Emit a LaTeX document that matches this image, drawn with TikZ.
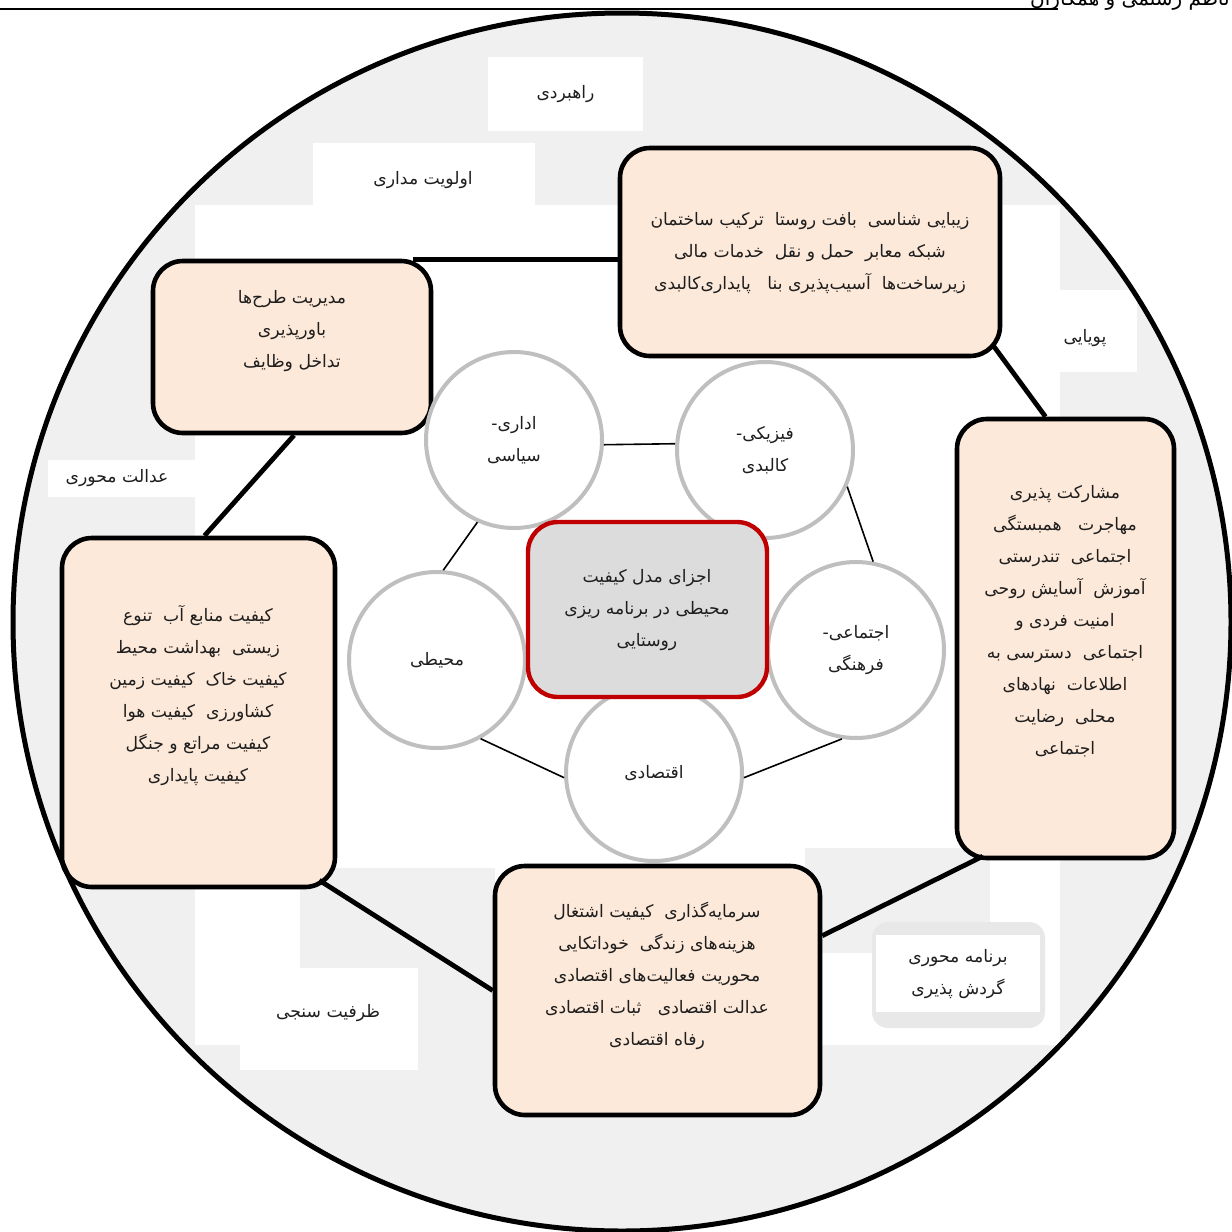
\documentclass[tikz,border=0pt]{standalone}
\usepackage{fontspec}
\usetikzlibrary{calc}
\TeXXeTstate=1
\newfontfamily\arabicfont[Script=Arabic]{DejaVu Sans}
\newcommand{\pe}[1]{\beginR #1\endR}
\definecolor{bggray}{HTML}{F0F0F0}
\definecolor{framegray}{HTML}{E8E8E8}
\definecolor{pinkfill}{HTML}{FDE9D9}
\definecolor{cgray}{HTML}{BFBFBF}
\definecolor{centerfill}{HTML}{DCDCDC}
\definecolor{darkred}{HTML}{C00000}
\definecolor{txtc}{HTML}{1E1E1E}
\tikzset{
  fatxt/.style={align=center, text=txtc, font=\arabicfont\fontsize{8.6}{16}\selectfont, inner sep=0pt},
  pinkbox/.style={draw=black, line width=2.3pt, fill=pinkfill, rounded corners=15pt, inner sep=0pt},
  smallc/.style={circle, draw=cgray, line width=2pt, fill=white, minimum size=88pt, inner sep=0pt, fatxt},
  thick link/.style={draw=black, line width=2.4pt},
  thin link/.style={draw=black, line width=0.8pt},
  labelbox/.style={fill=white, draw=none, inner sep=0pt}
}
\begin{document}
\begin{tikzpicture}[x=0.5pt,y=-0.5pt]
\useasboundingbox (0,0) rectangle (1232,1232);
\clip (0,0) rectangle (1232,1232);
\fill[white] (0,0) rectangle (1232,1232);
% header
\draw[black, line width=0.8pt] (0,9) -- (1058,9);
\node[anchor=base east, font=\arabicfont\fontsize{10}{12}\selectfont, inner sep=0pt] (hdr) at (1230,5) {\pe{ناظم رستمی و همکاران}};
% big circle
\fill[bggray] (622,622) circle (304.5pt);
% white inner panel
\fill[white] (195,205) rectangle (1060,1045);
% gray patches
\fill[bggray] (300,868) rectangle (495,1045);
\fill[bggray] (805,848) rectangle (990,953);
% label boxes
\node[labelbox, minimum width=77.5pt, minimum height=37pt] (lb1) at (565.5,94) {};
\node[fatxt] at (lb1) {\pe{راهبردی}};
\node[labelbox, minimum width=111pt, minimum height=42.5pt] (lb2) at (424,185.5) {};
\node[fatxt] at (423,180) {\pe{اولویت مداری}};
\node[labelbox, minimum width=53.5pt, minimum height=41pt] (lb3) at (1083.5,331) {};
\node[fatxt] at (1085,338) {\pe{پویایی}};
\node[labelbox, minimum width=86pt, minimum height=18.5pt] (lb4) at (134,478.5) {};
\node[fatxt] at (117,478) {\pe{عدالت محوری}};
\node[labelbox, minimum width=89pt, minimum height=51pt] (lb5) at (329,1019) {};
\node[fatxt] at (328,1013) {\pe{ظرفیت سنجی}};
\fill[framegray, rounded corners=8pt] (872,922) rectangle (1045,1028);
\node[labelbox, minimum width=82pt, minimum height=38.5pt] (lb6) at (958,973.5) {};
\node[fatxt] at (958,974) {\pe{برنامه محوری}\\\pe{گردش پذیری}};
% pink boxes
\node[pinkbox, minimum width=190pt, minimum height=104pt] (topb) at (810,252) {};
\node[pinkbox, minimum width=139pt, minimum height=86pt] (tlb) at (292,347) {};
\node[pinkbox, minimum width=108.5pt, minimum height=219.5pt] (rb) at (1065.5,638.5) {};
\node[pinkbox, minimum width=136.5pt, minimum height=174.5pt] (lfb) at (198.5,712.5) {};
\node[pinkbox, minimum width=162.5pt, minimum height=124.5pt] (bb) at (657.5,990.5) {};
% thick connectors
\coordinate (c1) at ($(tlb.north east)+(-20,1)$);
\draw[thick link] (c1) -- (c1 -| topb.west);
\draw[thick link] ($(topb.south east)+(-10,-14)$) -- ($(rb.north)+(-20,0)$);
\draw[thick link] ($(rb.south west)+(28,-4)$) -- ($(bb.north east)+(0,72)$);
\draw[thick link] (bb.west) -- ($(lfb.south east)+(-18,-9)$);
\draw[thick link] ($(lfb.north)+(6,0)$) -- ($(tlb.south)+(2,0)$);
% texts of pink boxes
\node[fatxt] (topt) at (810,253) {\pe{زیبایی شناسی~ بافت روستا~ ترکیب ساختمان}\\\pe{شبکه معابر~ حمل و نقل~ خدمات مالی}\\\pe{زیرساخت‌ها~ آسیب‌پذیری بنا~~ پایداری‌کالبدی}};
\node[fatxt] (tlt) at (292,331) {\pe{مدیریت طرح‌ها}\\\pe{باورپذیری}\\\pe{تداخل وظایف}};
\node[fatxt] (rt) at (1065,621.5) {\pe{مشارکت پذیری}\\\pe{مهاجرت~~ همبستگی}\\\pe{اجتماعی~ تندرستی}\\\pe{آموزش~ آسایش روحی}\\\pe{امنیت فردی و}\\\pe{اجتماعی~ دسترسی به}\\\pe{اطلاعات~ نهادهای}\\\pe{محلی~ رضایت}\\\pe{اجتماعی}};
\node[fatxt] (lft) at (198,695.5) {\pe{کیفیت منابع آب~ تنوع}\\\pe{زیستی~ بهداشت محیط}\\\pe{کیفیت خاک~ کیفیت زمین}\\\pe{کشاورزی~ کیفیت هوا}\\\pe{کیفیت مراتع و جنگل}\\\pe{کیفیت پایداری}};
\node[fatxt] (bt) at (657,975.5) {\pe{سرمایه‌گذاری~ کیفیت اشتغال}\\\pe{هزینه‌های زندگی~ خوداتکایی}\\\pe{محوریت فعالیت‌های اقتصادی}\\\pe{عدالت اقتصادی~~ ثبات اقتصادی}\\\pe{رفاه اقتصادی}};
% small circles
\node[smallc] (adari) at (514,440) {\pe{اداری-}\\\pe{سیاسی}};
\node[smallc] (fizik) at (765,450) {\pe{فیزیکی-}\\\pe{کالبدی}};
\node[smallc] (ejtem) at (856,650) {\pe{اجتماعی-}\\\pe{فرهنگی}};
\node[smallc] (mohit) at (437,660) {\pe{محیطی}};
\node[smallc] (eqtes) at (654,773) {\pe{اقتصادی}};
% thin connectors
\draw[thin link] (adari.-3) -- (fizik.176);
\draw[thin link] (fizik.-24) -- (ejtem.79);
\draw[thin link] (ejtem.-99) -- (eqtes.-3);
\draw[thin link] (eqtes.183) -- (mohit.-61);
\draw[thin link] (mohit.86) -- (adari.-114);
% center box
\node[draw=darkred, line width=2.2pt, fill=centerfill, rounded corners=15pt, minimum width=119.5pt, minimum height=87.5pt, inner sep=0pt] (center) at (647.5,609.5) {};
\node[fatxt] (centert) at (647,610) {\pe{اجزای مدل کیفیت}\\\pe{محیطی در برنامه ریزی}\\\pe{روستایی}};
% big circle outline
\draw[black, line width=2.5pt] (622,622) circle (304.5pt);
\end{tikzpicture}
\end{document}
